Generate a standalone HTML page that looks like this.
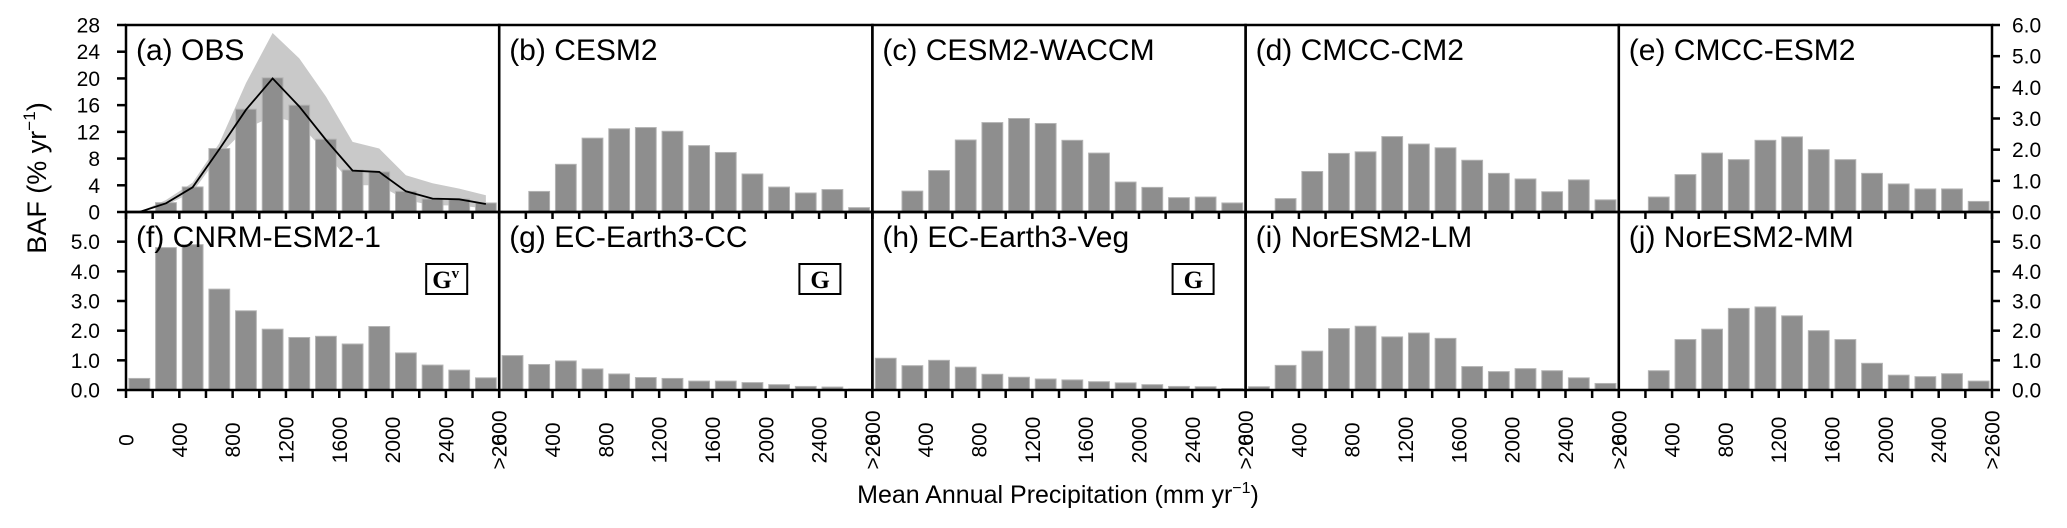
<!DOCTYPE html>
<html><head><meta charset="utf-8"><style>
html,body{margin:0;padding:0;background:#fff;}
svg{display:block;font-family:"Liberation Sans",sans-serif;}
</style></head><body>
<svg id="chart" width="2067" height="528" viewBox="0 0 2067 528" xmlns="http://www.w3.org/2000/svg"></svg>
<script>
const panelTitles = ["(a) OBS","(b) CESM2","(c) CESM2-WACCM","(d) CMCC-CM2","(e) CMCC-ESM2","(f) CNRM-ESM2-1","(g) EC-Earth3-CC","(h) EC-Earth3-Veg","(i) NorESM2-LM","(j) NorESM2-MM"];
const binLabels = ["0","400","800","1200","1600","2000","2400",">2600"];
const obsBars = [0,1.4,3.75,9.5,15.4,20.1,16.0,10.9,6.3,6.0,3.1,1.95,1.95,1.35];
const obsLine = [0,1.3,3.7,9.4,15.3,20.0,15.8,10.8,6.2,6.0,3.1,2.0,1.9,1.2];
const obsUpper = [0,1.8,4.4,10.3,19.3,26.8,23.0,17.3,10.5,9.5,5.5,4.3,3.5,2.5];
const obsLower = [0,1.0,3.0,8.5,12.5,14.3,13.3,8.8,4.0,4.0,1.8,1.0,1.0,0.5];
const cesm2 = [0,0.66,1.53,2.37,2.67,2.71,2.59,2.13,1.91,1.22,0.80,0.61,0.72,0.14];
const cesm2waccm = [0,0.67,1.33,2.31,2.87,3.0,2.84,2.30,1.89,0.96,0.79,0.46,0.48,0.29];
const cmccCm2 = [0,0.43,1.30,1.88,1.93,2.42,2.18,2.06,1.66,1.24,1.06,0.65,1.03,0.39];
const cmccEsm2 = [0,0.48,1.20,1.89,1.68,2.30,2.41,2.00,1.68,1.24,0.90,0.74,0.74,0.34];
const cnrm = [0.39,4.8,4.9,3.4,2.67,2.05,1.77,1.81,1.55,2.14,1.25,0.84,0.67,0.41];
const ecCC = [1.16,0.86,0.98,0.71,0.54,0.42,0.39,0.30,0.30,0.25,0.18,0.12,0.10,0.03];
const ecVeg = [1.07,0.82,1.0,0.77,0.53,0.43,0.37,0.34,0.28,0.24,0.18,0.12,0.11,0.05];
const norLM = [0.11,0.83,1.31,2.07,2.15,1.79,1.92,1.74,0.79,0.62,0.72,0.65,0.41,0.22];
const norMM = [0,0.65,1.7,2.05,2.75,2.8,2.5,2.0,1.7,0.9,0.5,0.45,0.55,0.3];
const modelSeries = [null,cesm2,cesm2waccm,cmccCm2,cmccEsm2,cnrm,ecCC,ecVeg,norLM,norMM];
const gMarks = [null,null,null,null,null,"Gv","G","G",null,null];
const leftTicksTop = [0,4,8,12,16,20,24,28];
const rightTicksTop = ["0.0","1.0","2.0","3.0","4.0","5.0","6.0"];
const ticksBottom = ["0.0","1.0","2.0","3.0","4.0","5.0"];

const NS="http://www.w3.org/2000/svg";
const svg=document.getElementById('chart');
function mk(tag,attrs,parent){const e=document.createElementNS(NS,tag);for(const k in attrs)e.setAttribute(k,attrs[k]);(parent||svg).appendChild(e);return e;}

const X0=126, PW=373.2, NB=14, BW=PW/NB;
const rows=[{top:25,bot:212},{top:212,bot:390}];
function xBin(p,i){return X0+(p%5)*PW+i*BW;}
function yScale(r,max){const R=rows[r];return v=>R.bot-(v/max)*(R.bot-R.top);}

for(let p=0;p<10;p++){
  const r=p<5?0:1, col=p%5;
  const g=mk('g',{});
  
  
  const y = (p===0)? yScale(0,28) : yScale(r,6);
  if(p===0){
    let d='';
    obsUpper.forEach((v,i)=>{d+=(i?'L':'M')+(xBin(0,i)+BW/2)+','+y(v);});
    for(let i=obsLower.length-1;i>=0;i--) d+='L'+(xBin(0,i)+BW/2)+','+y(obsLower[i]);
    const band=mk('path',{d:d+'Z',fill:'#c9c9c9'},g);
    
    
  }
  const vals = p===0?obsBars:modelSeries[p];
  vals.forEach((v,i)=>{
    if(v<=0) return;
    const b=mk('rect',{x:xBin(p,i)+BW*0.11,y:y(v),width:BW*0.78,height:rows[r].bot-y(v),fill:'#8e8e8e',stroke:'#b4b4b4','stroke-width':1},g);
    
    
  });
  if(p===0){
    const pts=obsLine.map((v,i)=>(xBin(0,i)+BW/2)+','+y(v)).join(' ');
    const l=mk('polyline',{points:pts,fill:'none',stroke:'#000','stroke-width':1.8},g);
    
    
  }
  const px=X0+col*PW;
  const box=mk('rect',{x:px,y:rows[r].top,width:PW,height:rows[r].bot-rows[r].top,fill:'none',stroke:'#000','stroke-width':2.5},g);
  
  
  for(let i=0;i<=NB;i++){
    const x=xBin(p,i);
    mk('line',{x1:x,x2:x,y1:rows[r].bot,y2:rows[r].bot+(r?8:7),stroke:'#000','stroke-width':2.5},g);
  }
  const t=mk('text',{x:px+10,y:rows[r].top+35,'font-size':30},g);
  t.textContent=panelTitles[p];
  
  
  if(gMarks[p]){
    const bx=px+PW-73, by=264;
    const gb=mk('rect',{x:bx,y:by,width:41,height:30,fill:'#fff',stroke:'#000','stroke-width':2},g);
    
    
    const gt=mk('text',{x:bx+(gMarks[p]==='Gv'?6:11),y:by+24,'font-family':'Liberation Serif, serif','font-weight':'bold','font-size':25},g);
    gt.textContent='G';
    
    
    if(gMarks[p]==='Gv'){const s=mk('tspan',{'font-size':15,dy:-10},gt);s.textContent='v';}
  }
}
for(let col=0;col<5;col++){
  for(let k=0;k<binLabels.length;k++){
    const x=xBin(col,k*2);
    const t=mk('text',{x:0,y:0,'font-size':21,'text-anchor':'middle',transform:`translate(${x+7.5},440) rotate(-90)`});
    t.textContent=binLabels[k];
    
    
  }
}
const XR=X0+5*PW;
const yA=yScale(0,28), y6=yScale(0,6), yB=yScale(1,6);
leftTicksTop.forEach(v=>{
  mk('line',{x1:X0-9,x2:X0,y1:yA(v),y2:yA(v),stroke:'#000','stroke-width':2.5});
  const t=mk('text',{x:X0-26,y:yA(v)+7.5,'font-size':21,'text-anchor':'end'});t.textContent=v;
  
  
});
rightTicksTop.forEach(v=>{
  mk('line',{x1:XR,x2:XR+8,y1:y6(+v),y2:y6(+v),stroke:'#000','stroke-width':2.5});
  const t=mk('text',{x:XR+20,y:y6(+v)+7.5,'font-size':21});t.textContent=v;
  
  
});
ticksBottom.forEach(v=>{
  mk('line',{x1:X0-9,x2:X0,y1:yB(+v),y2:yB(+v),stroke:'#000','stroke-width':2.5});
  mk('line',{x1:XR,x2:XR+8,y1:yB(+v),y2:yB(+v),stroke:'#000','stroke-width':2.5});
  const t=mk('text',{x:X0-26,y:yB(+v)+7.5,'font-size':21,'text-anchor':'end'});t.textContent=v;
  
  
  const t2=mk('text',{x:XR+20,y:yB(+v)+7.5,'font-size':21});t2.textContent=v;
  
  
});
const yt=mk('text',{x:0,y:0,'font-size':27,'text-anchor':'middle',transform:'translate(46,178) rotate(-90)'});
yt.innerHTML='BAF (% yr<tspan dy="-11" font-size="17">−1</tspan><tspan dy="11">)</tspan>';


const xt=mk('text',{x:1058,y:503,'font-size':25,'text-anchor':'middle'});
xt.innerHTML='Mean Annual Precipitation (mm yr<tspan dy="-10" font-size="16">−1</tspan><tspan dy="10">)</tspan>';


</script>
</body></html>
